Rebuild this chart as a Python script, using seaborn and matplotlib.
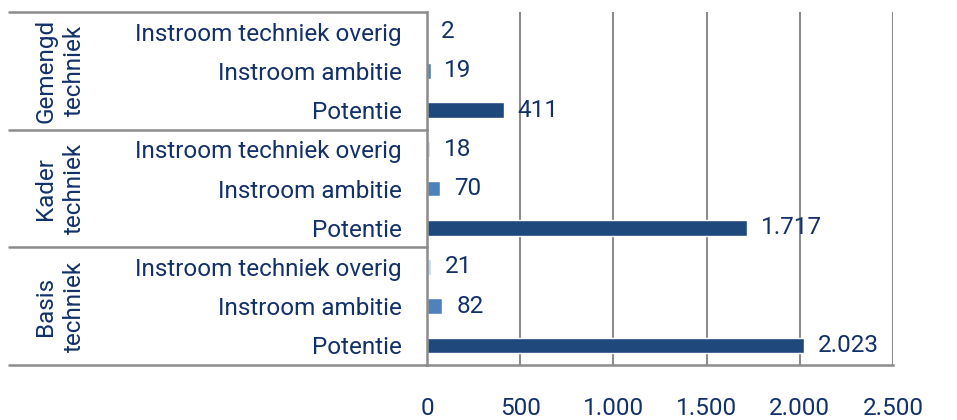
import matplotlib
matplotlib.use("Agg")
import matplotlib.pyplot as plt
import matplotlib.transforms as mtransforms
import pandas as pd
import seaborn as sns

# data (top to bottom)
groups = ["Gemengd\ntechniek", "Kader\ntechniek", "Basis\ntechniek"]
series = ["Instroom techniek overig", "Instroom ambitie", "Potentie"]
gemengd = [2, 19, 411]
kader = [18, 70, 1717]
basis = [21, 82, 2023]
x_ticks = [0, 500, 1000, 1500, 2000, 2500]

colors = {"Instroom techniek overig": "#c6d9f1",
          "Instroom ambitie": "#4f81bd",
          "Potentie": "#1f497d"}
text_color = "#12306a"
line_color = "#8c8c8c"
fs = 17.5

rows = []
for g, vals in zip(groups, [gemengd, kader, basis]):
    for s, v in zip(series, vals):
        rows.append({"row": f"{g}|{s}", "group": g, "serie": s, "value": v})
df = pd.DataFrame(rows)

sns.set_style("white")
plt.rcParams["font.family"] = ["Roboto", "DejaVu Sans"]

fig = plt.figure(figsize=(9.57, 4.2), dpi=100)
ax = fig.add_axes([427 / 957, 1 - 365 / 420, (893 - 427) / 957, (365 - 12) / 420])

sns.barplot(data=df, x="value", y="row", hue="serie", palette=colors,
            dodge=False, width=0.4, saturation=1, legend=False, ax=ax)

# keep every bar the same thickness, centred on its row
for p in ax.patches:
    c = p.get_y() + p.get_height() / 2
    p.set_height(0.4)
    p.set_y(c - 0.2)

ax.set_xlim(0, 2500)
ax.set_ylim(len(df) - 0.5, -0.5)
ax.set_xticks(x_ticks)
ax.set_xticklabels([f"{t:,}".replace(",", ".") for t in x_ticks])
ax.set_yticks(range(len(df)))
ax.set_yticklabels(df["serie"])
ax.set_xlabel("")
ax.set_ylabel("")
ax.tick_params(axis="x", length=0, pad=23, labelsize=fs, labelcolor=text_color)
ax.tick_params(axis="y", length=0, pad=18, labelsize=fs, labelcolor=text_color)

ax.grid(axis="x", color=line_color, lw=1.5)
ax.set_axisbelow(True)
for side in ["top", "right"]:
    ax.spines[side].set_visible(False)
for side in ["left", "bottom"]:
    ax.spines[side].set_color(line_color)
    ax.spines[side].set_linewidth(1.8)

for cont in ax.containers:
    ax.bar_label(cont, labels=[f"{int(v.get_width()):,}".replace(",", ".") for v in cont],
                 padding=10, fontsize=fs, color=text_color)

# group labels and separator lines on the left
trans = mtransforms.blended_transform_factory(fig.transFigure, ax.transData)
for i, g in enumerate(groups):
    ax.text(60 / 957, i * 3 + 1, g, transform=trans, rotation=90,
            ha="center", va="center", fontsize=fs, color=text_color,
            linespacing=1.3)
for b in [-0.5, 2.5, 5.5, 8.5]:
    ax.plot([9 / 957, 427 / 957], [b, b], transform=trans, color=line_color,
            lw=1.8, clip_on=False)

fig.savefig("out.png", dpi=100)
